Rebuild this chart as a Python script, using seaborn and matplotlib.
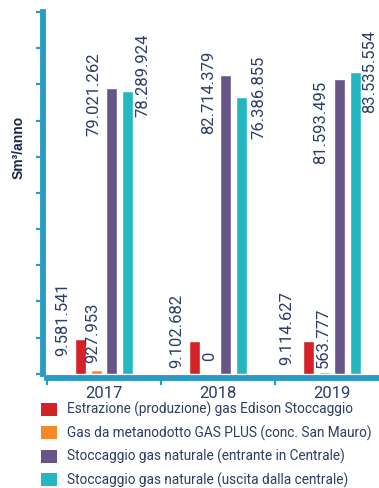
import numpy as np
import pandas as pd
import matplotlib
matplotlib.use("Agg")
import matplotlib.pyplot as plt
from matplotlib.patches import Patch
from matplotlib import font_manager as fm
import seaborn as sns

# ---- data ----
years = ["2017", "2018", "2019"]
series = [
    "Estrazione (produzione) gas Edison Stoccaggio",
    "Gas da metanodotto GAS PLUS (conc. San Mauro)",
    "Stoccaggio gas naturale (entrante in Centrale)",
    "Stoccaggio gas naturale (uscita dalla centrale)",
]
estrazione = [9581541, 9102682, 9114627]
gas_plus = [927953, 0, 563777]
stocc_in = [79021262, 82714379, 81593495]
stocc_out = [78289924, 76386855, 83535554]
colors = ["#D42229", "#F4892A", "#685587", "#23B7C1"]

# label offsets relative to bar (pixels: dx right, dy up) - layout only
label_offsets = [
    [(-18, 20), (-18, 10), (-22, 13)],
    [(-3, 38), (0, 17), (-1, 34)],
    [(-18, -6), (-17, -18), (-19, -44)],
    [(15, 15), (17, 0), (14, 0)],
]

values = [estrazione, gas_plus, stocc_in, stocc_out]
df = pd.DataFrame(
    [(y, s, v) for s, vals in zip(series, values) for y, v in zip(years, vals)],
    columns=["year", "series", "value"],
)

def pick(names):
    avail = {f.name for f in fm.fontManager.ttflist}
    for n in names:
        if n in avail:
            return n
    return "DejaVu Sans"

narrow = pick(["Liberation Sans Narrow", "Roboto", "Lato"])
bold_font = pick(["Liberation Sans", "Lato"])

sns.set_style("white")
plt.rcParams["font.family"] = [narrow, "DejaVu Sans"]

navy = "#2C3E64"
axblue = "#2A9BC5"

fig = plt.figure(figsize=(3.79, 4.88), dpi=100)
ax = fig.add_axes([47 / 379, 114.3 / 488, 342 / 379, 361.7 / 488])

sns.barplot(data=df, x="year", y="value", hue="series", palette=colors,
            width=0.555, gap=0.3, legend=False, ax=ax, saturation=1)

ax.set_xlim(-0.5, 2.5)
ax.set_ylim(0, 100e6)
ax.set_xlabel("")
ax.set_ylabel("")

for side in ["top", "right"]:
    ax.spines[side].set_visible(False)
for side in ["left", "bottom"]:
    ax.spines[side].set_color(axblue)
    ax.spines[side].set_linewidth(4.2)
    ax.spines[side].set_position(("outward", 3))

ax.set_yticks(np.arange(0, 100e6 + 1, 10e6))
ax.set_yticklabels([])
ax.tick_params(axis="y", left=True, length=5, width=1.6, color=axblue, direction="out")

ax.set_xticks(range(len(years)))
ax.set_xticklabels(years, fontsize=12, color=navy)
ax.tick_params(axis="x", bottom=True, length=0, pad=6)
ax.set_xticks([-0.5, 0.5, 1.5, 2.5], minor=True)
ax.tick_params(axis="x", which="minor", bottom=True, length=5, width=1.6, color=axblue, direction="out")

def fmt(v):
    return f"{v:,}".replace(",", ".")

for ci, cont in enumerate(ax.containers):
    for bi, bar in enumerate(cont.patches):
        x = bar.get_x() + bar.get_width() / 2
        h = bar.get_height()
        dx, dy = label_offsets[ci][bi]
        ax.annotate(fmt(values[ci][bi]), xy=(x, h), xytext=(dx, dy),
                    textcoords="offset pixels", rotation=90, ha="center",
                    va="center", fontsize=12, color=navy, annotation_clip=False)

fig.text(19 / 379, 1 - 147 / 488, "Sm³/anno", rotation=90, ha="center", va="center",
         fontsize=10, fontweight="bold", color="#1B2A4A", family=[bold_font, "DejaVu Sans"])

handles = [Patch(facecolor=c, edgecolor="none") for c in colors]
fs = 9.8
em = fs * 100 / 72
fig.legend(handles, series, loc="upper left", bbox_to_anchor=(41 / 379, 1 - 402 / 488),
           frameon=False, fontsize=fs, labelcolor=navy, handlelength=16 / em,
           handleheight=15 / em, handletextpad=10 / em, labelspacing=0.6,
           borderpad=0, borderaxespad=0)

fig.savefig("out.png", dpi=100)
